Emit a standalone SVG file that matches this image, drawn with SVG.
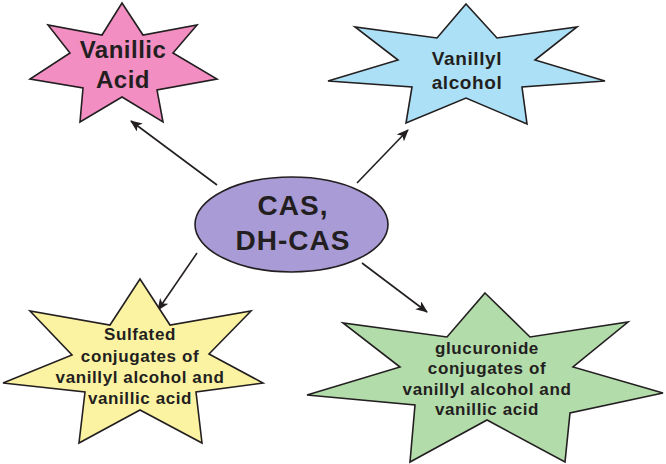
<svg xmlns="http://www.w3.org/2000/svg" width="666" height="464" viewBox="0 0 666 464">
<defs>
<style>
.star{stroke:#231f20;stroke-width:1.6;stroke-linejoin:miter}
.t{font-family:"Liberation Sans",Arial,sans-serif;font-weight:bold;fill:#231f20;text-anchor:middle}
.s{font-size:17px;letter-spacing:0.6px}
.c{stroke:#231f20;stroke-width:1.6;fill:none;marker-end:url(#ah)}
</style>
<marker id="ah" viewBox="0 0 12 10" refX="11" refY="5" markerWidth="12" markerHeight="10" markerUnits="userSpaceOnUse" orient="auto">
<path d="M0,0 L12,5 L0,10 L3,5 Z" fill="#231f20"/>
</marker>
</defs>
<rect width="666" height="464" fill="#ffffff"/>
<g id="connectors">
<line class="c" x1="217" y1="185" x2="131" y2="121"/>
<line class="c" x1="357" y1="183" x2="408" y2="130"/>
<line class="c" x1="197" y1="253" x2="158" y2="310"/>
<line class="c" x1="362" y1="263" x2="427" y2="312"/>
</g>
<g id="vanillic-acid">
<polygon class="star" fill="#f28ec1" points="122,3 143,35 197,25 173,53 217,79 157,90 163,122 122,97 80,122 83,88 30,79 70,53 48,25 102,35"/>
<text class="t" x="123" y="58" font-size="24" letter-spacing="0.5">Vanillic</text>
<text class="t" x="123" y="88" font-size="24" letter-spacing="0.5">Acid</text>
</g>
<g id="vanillyl-alcohol">
<polygon class="star" fill="#abe0f6" points="466,4 497,38 577,27 535,60 605,81 522,87 527,124 466,98 406,123 412,87 328,81 398,60 355,27 437,38"/>
<text class="t" x="467" y="65" font-size="19" letter-spacing="0.6">Vanillyl</text>
<text class="t" x="467" y="89" font-size="19" letter-spacing="0.6">alcohol</text>
</g>
<g id="cas">
<ellipse cx="291.5" cy="224.5" rx="96.5" ry="47.5" fill="#a99bd6" stroke="#231f20" stroke-width="1.6"/>
<text class="t" x="293" y="215" font-size="28" letter-spacing="1">CAS,</text>
<text class="t" x="293" y="250" font-size="28" letter-spacing="1">DH-CAS</text>
</g>
<g id="sulfated">
<polygon class="star" fill="#fbf3a2" points="140,279 170,325 251,311 209,354 263,383 196,392 202,443 140,410 79,443 85,392 3,383 72,355 30,311 110,325"/>
<text class="t s" x="140" y="340">Sulfated</text>
<text class="t s" x="140" y="362">conjugates of</text>
<text class="t s" x="140" y="383">vanillyl alcohol and</text>
<text class="t s" x="140" y="404">vanillic acid</text>
</g>
<g id="glucuronide">
<polygon class="star" fill="#b3dcab" points="485,293 530,337 628,322 573,367 663,393 570,413 565,462 487,420 410,462 415,405 307,395 400,367 343,323 447,337"/>
<text class="t s" x="487" y="354">glucuronide</text>
<text class="t s" x="487" y="374">conjugates of</text>
<text class="t s" x="487" y="395">vanillyl alcohol and</text>
<text class="t s" x="487" y="415">vanillic acid</text>
</g>
</svg>
